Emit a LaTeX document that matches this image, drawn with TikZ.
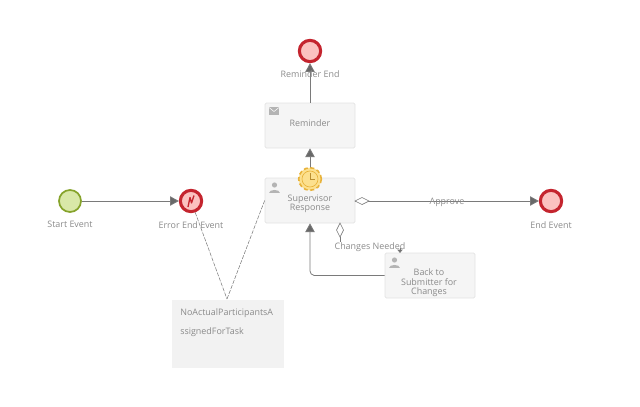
\documentclass[tikz,border=0pt]{standalone}
\usepackage{fontspec}
\setmainfont{Open Sans}
\usetikzlibrary{arrows.meta,calc,positioning}
\definecolor{flowgray}{HTML}{7A7A7A}
\definecolor{labelgray}{HTML}{8A8A8A}
\definecolor{boxfill}{HTML}{F5F5F5}
\definecolor{boxline}{HTML}{E2E2E2}
\definecolor{notefill}{HTML}{F2F2F2}
\definecolor{iconfill}{HTML}{B4B4B4}
\definecolor{endred}{HTML}{C4242E}
\definecolor{endfill}{HTML}{FBC2C0}
\definecolor{startline}{HTML}{86A32B}
\definecolor{startfill}{HTML}{D9E8A8}
\definecolor{timerline}{HTML}{E8B23A}
\definecolor{timerfill}{HTML}{FCE08E}
\tikzset{
  x=0.75pt,y=-0.75pt,
  every node/.style={font=\fontsize{6.7pt}{8pt}\selectfont,text=labelgray},
  startevent/.style={circle,draw=startline,fill=startfill,line width=1.3pt,minimum size=16.5pt,inner sep=0pt},
  endevent/.style={circle,draw=endred,fill=endfill,line width=2.3pt,minimum size=16pt,inner sep=0pt},
  taskbox/.style={draw=boxline,fill=boxfill,rounded corners=1pt,line width=0.5pt,minimum width=67.5pt,minimum height=33.75pt,inner sep=0pt,align=center},
  notebox/.style={fill=notefill,minimum width=84pt,minimum height=51pt,inner sep=0pt},
  flow/.style={draw=flowgray,line width=0.6pt,-{Triangle[length=6.5pt,width=7pt,fill=flowgray!85!black]}},
  smallflow/.style={draw=flowgray,line width=0.6pt,-{Triangle[length=2.5pt,width=4pt,fill=flowgray!85!black]}},
  assoc/.style={draw=flowgray,line width=0.4pt,dash pattern=on 3pt off 1pt},
  diamondtip/.style={draw=flowgray,fill=white,line width=0.5pt},
}
\begin{document}
\begin{tikzpicture}
\useasboundingbox (0,0) rectangle (640,407);
\node[startevent] (start) at (70,201) {};
\node[endevent] (error) at (191,201) {};
\node[endevent] (remend) at (310,51) {};
\node[endevent] (end) at (551,201) {};
\node[taskbox] (reminder) at (310,125.5) {};
\node[taskbox] (super) at (310,200.5) {};
\node[taskbox] (back) at (430,275.5) {};
\node[notebox] (note) at (228,334) {};
\coordinate (noteTip) at (227,299);
\coordinate (elbow) at (310,275);
\coordinate (backTop) at (400,253);
\coordinate (backFrom) at (400,248);

% event labels
\node[below=2.5pt of start] (startlab) {Start Event};
\node[below=2.5pt of error] (errorlab) {Error End Event};
\node[below=2.5pt of end] (endlab) {End Event};

% connectors
\draw[flow] (start) -- (error);
\draw[flow] (super) -- (reminder);
\draw[flow] (reminder) -- (remend);
\draw[flow] (back.west) -- ++(-70,0) [rounded corners=3pt] -- (elbow) -- (super.south);
\draw[flow] (355,201) -- (end);
\draw[smallflow] (backFrom) -- (backTop);
\draw[assoc] (error) -- (noteTip);
\draw[assoc] (super.west) -- (noteTip);
\draw[diamondtip] (355,201) -- (362,197.5) -- (369,201) -- (362,204.5) -- cycle;
\draw[draw=flowgray,line width=0.6pt] (340,237) -- (340,242);
\draw[diamondtip] (340,223) -- (343.5,230) -- (340,237) -- (336.5,230) -- cycle;

% labels on top of the lines
\node (remendlab) at (310,74) {Reminder End};
\node (remlab) at (310,123) {Reminder};
\node (approve) at (447,202.5) {Approve};
\node (changes) at (370,247.5) {Changes Needed};
\node[align=center] (superlab) at (310,203.5) {Supervisor\\[-1pt]Response};
\node[align=center] (backlab) at (429,283) {Back to\\[-1pt]Submitter for\\[-1pt]Changes};
\node[anchor=north west,align=left,inner sep=0pt] (notelab) at (180,308) {NoActualParticipantsA\\[6.5pt]ssignedForTask};

% timer on the task edge
\node[circle,draw=timerline,fill=timerfill,line width=1.2pt,densely dashed,minimum size=17pt,inner sep=0pt] (timer) at (310,179) {};
\node[circle,draw=timerline,fill=timerfill,line width=0.5pt,minimum size=12pt,inner sep=0pt] (timerin) at (310,179) {};
\draw[timerline!80!black,line width=0.5pt] (310,173) -- (timerin.center) -- (315,179);

% task icons
\fill[iconfill] (269,107) rectangle (279,115);
\draw[white,line width=0.4pt] (269,107.5) -- (274,111.5) -- (279,107.5);
\fill[iconfill] (274.5,185) circle (2.6);
\fill[iconfill] (269,193) .. controls (269,188.5) and (280,188.5) .. (280,193) -- cycle;
\fill[iconfill] (394.5,260) circle (2.6);
\fill[iconfill] (389,268) .. controls (389,263.5) and (400,263.5) .. (400,268) -- cycle;

% error flash
\draw[endred,line width=1pt,line join=round] (188,207) -- (190,197.5) -- (191.5,203) -- (194,195.5);
\end{tikzpicture}
\end{document}
